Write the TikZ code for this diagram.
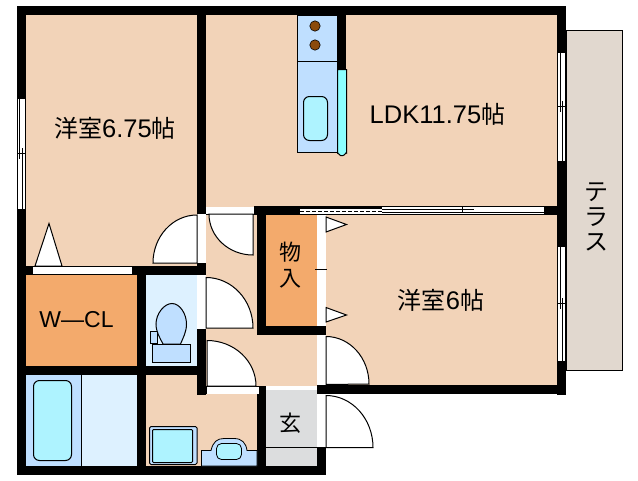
\documentclass[tikz,border=0pt]{standalone}
\usepackage{fontspec}
\setmainfont{Liberation Sans}
\newfontfamily\jp{Noto Sans CJK JP}
\definecolor{room}{HTML}{F2D3B8}
\definecolor{closet}{HTML}{F3AA6C}
\definecolor{wetlight}{HTML}{DDF1FF}
\definecolor{wet}{HTML}{BFDFFF}
\definecolor{aqua}{HTML}{AEF3FF}
\definecolor{strip}{HTML}{8CFFFF}
\definecolor{hob}{HTML}{8B4A0B}
\definecolor{terr}{HTML}{E1D8CF}
\definecolor{entry}{HTML}{DCDDDE}
\tikzset{
 x=1pt,y=-1pt,
 wall/.style={fill=black,draw=none},
 opening/.style={fill=white,draw=none},
 thin1/.style={draw=black,line width=1pt},
 hair/.style={draw=black,line width=.7pt},
 doorleaf/.style={fill=white,draw=black,line width=1pt},
 label/.style={inner sep=0pt,text=black},
}
\newcommand{\latinpart}[1]{{\fontsize{25.5}{25.5}\selectfont\fontspec{Liberation Sans}#1}}
\begin{document}
\begin{tikzpicture}
\useasboundingbox (0,0) rectangle (638,480);
\fill[white] (0,0) rectangle (638,480);
% terrace
\draw[fill=terr,line width=1pt] (566,30.5) rectangle (622.5,370.5);
% rooms
\fill[room] (26,15) rectangle (557,386);
\fill[closet] (26,275) rectangle (137,366);
\fill[wetlight] (146,275) rectangle (197,366);
\fill[wetlight] (82,375) rectangle (137,466);
\fill[wet] (26,375) rectangle (81,466);
\draw[thin1] (81.5,375) -- (81.5,466);
\fill[room] (146,375) rectangle (257,466);
\fill[closet] (266,215) rectangle (317,326);
\fill[entry] (266,390) rectangle (317,466);
\draw[thin1] (266,447.5) -- (317,447.5);
% kitchen
\draw[fill=wet,line width=1pt] (297.5,15) rectangle (337,152.5);
\draw[thin1] (297.5,61.5) -- (337,61.5);
\fill[hob,draw=black,line width=.6pt] (315,26) circle (5.2);
\fill[hob,draw=black,line width=.6pt] (315,45) circle (5.2);
\draw[fill=aqua,line width=1pt,rounded corners=6pt] (303.5,96.5) rectangle (327.5,140.5);
\fill[strip] (337.5,70) -- (337.5,152) arc[start angle=180,end angle=90,radius=3] -- cycle;
\draw[fill=strip,line width=1pt] (337.5,69.5) -- (346.5,69.5) -- (346.5,153) to[out=90,in=0] (343,155.5) -- (340.5,155.5) to[out=180,in=90] (337.5,153) -- cycle;
% walls
\fill[wall] (17,6) rectangle (566,15);
\fill[wall] (17,6) rectangle (26,475);
\fill[wall] (557,6) rectangle (566,395);
\fill[wall] (17,466) rectangle (326,475);
\fill[wall] (197,6) rectangle (206,395);
\fill[wall] (337,15) rectangle (346,70);
\fill[wall] (17,266) rectangle (206,275);
\fill[wall] (137,266) rectangle (146,475);
\fill[wall] (17,366) rectangle (206,375);
\fill[wall] (197,386) rectangle (266,394);
\fill[wall] (257,394) rectangle (266,475);
\fill[wall] (257,206) rectangle (266,335);
\fill[wall] (254,206) rectangle (257,215);
\fill[wall] (257,326) rectangle (326,335);
\fill[wall] (257,206) rectangle (557,215);
\fill[wall] (317,385) rectangle (566,394);
\fill[wall] (317,326) rectangle (326,475);
% openings in the walls round the closet and entrance
\fill[opening] (317,335) rectangle (326,385);
\fill[opening] (317,394) rectangle (326,447);
\fill[opening] (317,215) rectangle (326,326);
\draw[hair] (315,269.5) -- (326.5,269.5);
% corridor wall openings
\fill[opening] (197,214) rectangle (206,264);
\fill[opening] (197,274.5) rectangle (206,329);
\draw[hair] (197,263.5) -- (206,263.5);
\fill[opening] (206,206.5) rectangle (254,214);
\draw[hair] (206,214) -- (254,214);
\fill[opening] (207,386.5) rectangle (259,393.5);
% closet door strip
\fill[opening] (33,267) rectangle (132,274);
% windows
\fill[opening] (17.5,99) rectangle (25.5,209);
\draw[hair] (17.5,99) -- (17.5,209) (25.5,99) -- (25.5,209) (19.5,99) -- (19.5,159) (22,148) -- (22,209) (17.5,153.5) -- (25.5,153.5);
\fill[opening] (557.5,52) rectangle (565.5,161);
\draw[hair] (557.5,52) -- (557.5,161) (565.5,52) -- (565.5,161) (557,52.5) -- (566,52.5) (560,52) -- (560,112) (562.5,101) -- (562.5,161) (557.5,106.5) -- (565.5,106.5);
\fill[opening] (557.5,246) rectangle (565.5,361);
\draw[hair] (557.5,246) -- (557.5,361) (565.5,246) -- (565.5,361) (557,246.5) -- (566,246.5) (560,246) -- (560,309) (562.5,298) -- (562.5,361) (557.5,303.5) -- (565.5,303.5);
% sliding door
\fill[opening] (300,209) rectangle (382,214);
\draw[line width=1pt,dash pattern=on 4pt off 2pt] (300,211.7) -- (382,211.7);
\fill[opening] (382,207) rectangle (544,214);
\draw[thin1] (382,209.8) -- (474,209.8) (382,212.4) -- (544,212.4) (462.5,207) -- (462.5,213);
% door leaves
\draw[doorleaf] (153,263) arc[start angle=180,end angle=90,x radius=44,y radius=-48] -- (197,263) -- cycle;
\draw[doorleaf] (209,214) arc[start angle=180,end angle=270,x radius=44,y radius=-41] -- (253,214) -- cycle;
\draw[doorleaf] (206,277.5) arc[start angle=90,end angle=0,x radius=47,y radius=-50.5] -- (206,328) -- cycle;
\draw[doorleaf] (207,340.5) arc[start angle=90,end angle=0,x radius=49,y radius=-45.5] -- (207,386) -- cycle;
\draw[doorleaf] (326,336.5) arc[start angle=90,end angle=0,x radius=43,y radius=-47.5] -- (326,384.5) -- cycle;
\draw[doorleaf] (326,395.5) arc[start angle=90,end angle=0,x radius=47,y radius=-52] -- (326,447.5) -- cycle;
% closet leaves
\draw[doorleaf] (35,266) -- (49,223.5) -- (62,266) -- cycle;
\draw[doorleaf] (326,217) -- (346.5,224.5) -- (326,232) -- cycle;
\draw[doorleaf] (326,307.5) -- (346.5,315) -- (326,322) -- cycle;
\draw[thin1] (33,266.5) -- (132,266.5);
% toilet
\draw[fill=wet,line width=1pt] (150.5,331.5) rectangle (157,343);
\draw[fill=wet,line width=1pt] (172,303.5) .. controls (180,303.5) and (186.5,314) .. (186.5,324) .. controls (186.5,332) and (183,338) .. (180.5,344) -- (163,344) .. controls (160,338) and (156,332) .. (156,324) .. controls (156,314) and (164,303.5) .. (172,303.5) -- cycle;
\draw[fill=wet,line width=1pt] (152.5,344.5) rectangle (190.5,362.5);
% tub
\draw[fill=aqua,line width=1pt,rounded corners=6pt] (33.5,380.5) rectangle (71.5,460.5);
% washer
\draw[fill=wet,line width=1pt,rounded corners=1.5pt] (149.5,426.5) rectangle (197,464.5);
\draw[fill=aqua,line width=1pt,rounded corners=1pt] (152.5,429.5) rectangle (192.5,462.5);
% basin
\draw[fill=wet,line width=.8pt] (201.5,466) -- (201.5,450.5) -- (211,450.5) .. controls (213,442) and (217,438.5) .. (224,438.5) -- (234,438.5) .. controls (242,438.5) and (246,443) .. (247,450.5) -- (257,450.5) -- (257,466) -- cycle;
\draw[fill=aqua,line width=.8pt,rounded corners=5pt] (216.5,443.5) rectangle (241.5,459.5);
% labels
\node[label] (r1) at (115,128) {\fontsize{24}{24}\selectfont\jp 洋室\latinpart{6.75}\jp 帖};
\node[label] (r2) at (437.5,114) {\latinpart{LDK11.75}\fontsize{24}{24}\selectfont\jp 帖};
\node[label] (r3) at (441,300) {\fontsize{24}{24}\selectfont\jp 洋室\latinpart{6}\jp 帖};
\node[label] (r4) at (76.5,320) {\fontsize{23}{23}\selectfont W—CL};
\node[label,align=center,font=\fontsize{22}{26.5}\selectfont\jp] (r5) at (290.5,265) {物\\入};
\node[label,font=\fontsize{22}{22}\selectfont\jp] (r6) at (290.5,423) {玄};
\node[label,align=center,font=\fontsize{24}{25}\selectfont\jp] (r7) at (596,217) {テ\\ラ\\ス};
\end{tikzpicture}
\end{document}
